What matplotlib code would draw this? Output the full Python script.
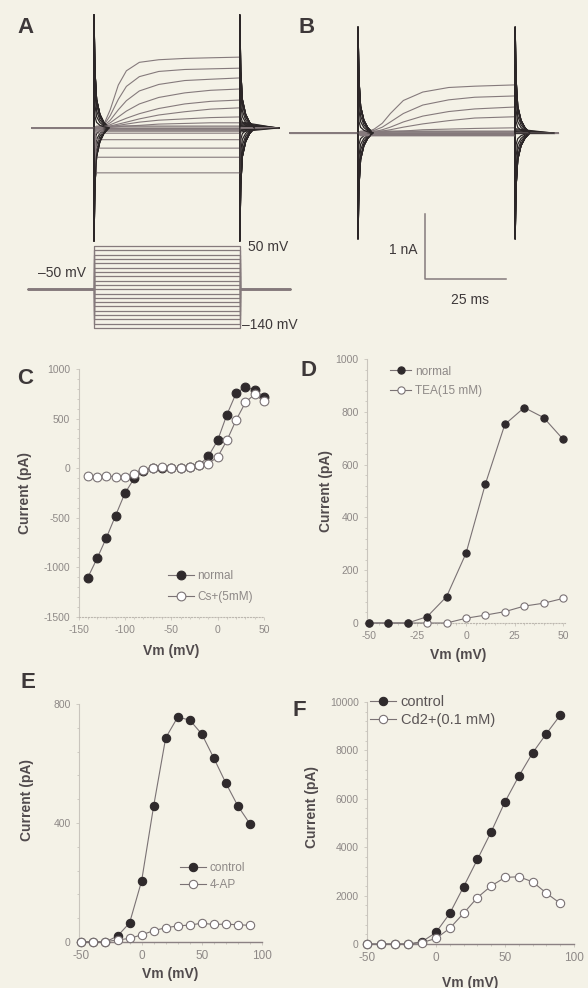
import matplotlib.pyplot as plt
from matplotlib.ticker import AutoMinorLocator

plt.rcParams['font.family'] = ['Liberation Sans', 'DejaVu Sans']
plt.rcParams['axes.unicode_minus'] = False

BG = '#f4f2e7'
TRACE = '#857a7c'
DARK = '#2b2627'
TEXT = '#3d3839'
TICK = '#8e8987'
LINE = '#7a7274'

W, H = 588, 988

# ---------------- panels A / B: current traces (nA vs ms) ----------------
steps_mv = list(range(50, -150, -10))          # 50 ... -140 mV

# A: outward traces, rows for 50 ... -20 mV, sampled at act_t_A
act_t_A = [0, 3, 5, 7.5, 10, 14, 20, 28, 36, 45]
act_A = [
    [0, 0.05, 0.28, 0.66, 0.88, 1.01, 1.05, 1.07, 1.08, 1.09],
    [0, 0.04, 0.19, 0.44, 0.64, 0.79, 0.87, 0.90, 0.91, 0.92],
    [0, 0.03, 0.12, 0.28, 0.42, 0.57, 0.67, 0.73, 0.75, 0.77],
    [0, 0.02, 0.08, 0.17, 0.26, 0.37, 0.47, 0.54, 0.58, 0.60],
    [0, 0.02, 0.05, 0.10, 0.15, 0.22, 0.30, 0.37, 0.41, 0.43],
    [0, 0.01, 0.03, 0.06, 0.09, 0.14, 0.20, 0.25, 0.29, 0.31],
    [0, 0.01, 0.02, 0.04, 0.06, 0.09, 0.12, 0.14, 0.16, 0.17],
    [0, 0.00, 0.01, 0.02, 0.03, 0.04, 0.06, 0.07, 0.08, 0.08],
]
# A: steady currents for -30 ... -140 mV
flat_A = [0.03, 0.015, 0.0, -0.01, -0.02, -0.035, -0.05, -0.08, -0.18, -0.31, -0.45, -0.69]

# B: outward traces, rows for 50 ... 10 mV
act_t_B = [0, 3, 5, 7.5, 10, 14, 20, 28, 36, 48.5]
act_B = [
    [0, 0.02, 0.06, 0.15, 0.30, 0.50, 0.63, 0.70, 0.72, 0.74],
    [0, 0.01, 0.04, 0.09, 0.17, 0.30, 0.43, 0.51, 0.55, 0.57],
    [0, 0.01, 0.02, 0.05, 0.09, 0.17, 0.26, 0.33, 0.37, 0.40],
    [0, 0.00, 0.01, 0.03, 0.05, 0.09, 0.14, 0.19, 0.23, 0.25],
    [0, 0.00, 0.01, 0.01, 0.02, 0.03, 0.05, 0.06, 0.07, 0.08],
]
flat_B = [0.03, 0.02, 0.01, 0.0, 0.0, -0.01, -0.01, -0.02, -0.02, -0.03,
          -0.03, -0.03, -0.04, -0.04, -0.04]

# capacitive transient and tail shapes
spike_t = [0, 0.3, 0.8, 1.8, 3, 4.5]
spike_frac = [1, 0.5, 0.25, 0.12, 0.05, 0]
tail_t = [0, 3, 6, 9, 12]
tail_frac = [1, 0.72, 0.47, 0.22, 0]

# ---------------- IV curves ----------------
vm_C = list(range(-140, 60, 10))
normal_C = [-1103, -910, -703, -477, -253, -103, -30, 0, 5, 5, 5, 10, 30, 120,
            280, 540, 757, 820, 787, 720]
cs_C = [-80, -85, -80, -85, -85, -55, -20, 5, 8, 5, 5, 8, 30, 47,
        113, 280, 487, 663, 747, 673]

vm_D = list(range(-50, 60, 10))
normal_D = [0, 0, 0, 24, 100, 264, 527, 752, 816, 778, 696]
tea_D = [0, 0, 0, 0, 0, 18, 30, 43, 64, 75, 93]

vm_E = list(range(-50, 100, 10))
control_E = [0, 0, 0, 20, 64, 205, 457, 686, 756, 746, 699, 618, 534, 457, 397]
ap_E = [1, 1, 1, 7, 12, 24, 38, 48, 54, 57, 63, 59, 60, 58, 56]

vm_F = list(range(-50, 100, 10))
control_F = [0, 0, 0, 0, 100, 480, 1266, 2366, 3494, 4636, 5875, 6933, 7896, 8693, 9451]
cd_F = [0, 0, 0, 0, 60, 230, 650, 1270, 1920, 2400, 2750, 2780, 2570, 2100, 1680]


def px_axes(x0, y0, x1, y1):
    return fig.add_axes([x0 / W, 1 - y1 / H, (x1 - x0) / W, (y1 - y0) / H])


def draw_traces(ax, rows, t_s, flat, T, t0, t1, clip):
    for i, v in enumerate(steps_mv):
        if i < len(rows):
            t_on, y_on = list(t_s), list(rows[i])
        else:
            f = flat[i - len(rows)]
            t_on, y_on = [0, 0.8, T], [0, f, f]
        ss = y_on[-1]
        ax.plot([t0, 0] + t_on + [T, t1], [0, 0] + y_on + [0, 0],
                color=TRACE, lw=0.8)
        peak = max(-clip, min(clip, 0.035 * (v + 50)))
        if peak == 0:
            continue
        ax.plot([0] + spike_t, [0] + [peak * f for f in spike_frac],
                color=DARK, lw=0.9)
        ax.plot([T] + [T + s for s in spike_t],
                [ss] + [-peak * f for f in spike_frac], color=DARK, lw=0.9)
        ax.plot([T + s for s in tail_t], [0.09 * ss * f for f in tail_frac],
                color=DARK, lw=0.8)


fig = plt.figure(figsize=(5.88, 9.88), dpi=100, facecolor=BG)

# panel A traces
axA = px_axes(20, 5, 295, 245)
axA.set_xlim(-22.84, 62.04)
axA.set_ylim(-1.8, 1.892)
draw_traces(axA, act_A, act_t_A, flat_A, 45, -19.1, 56.8, 1.74)
axA.axis('off')

# panel A voltage protocol
axV = px_axes(20, 240, 295, 340)
axV.set_xlim(-22.84, 62.04)
axV.set_ylim(-167.6, 63.9)
for v in steps_mv:
    axV.plot([-20.4, 0, 0, 45, 45, 60.5], [-50, -50, v, v, -50, -50],
             color=TRACE, lw=0.9)
axV.text(47.5, 48, '50 mV', fontsize=10, color=TEXT, ha='left', va='center')
axV.text(-2.5, -12, '\u201350 mV', fontsize=10, color=TEXT, ha='right', va='center')
axV.text(45.6, -133, '\u2013140 mV', fontsize=10, color=TEXT, ha='left', va='center')
axV.axis('off')

# panel B traces
axB = px_axes(285, 5, 585, 310)
axB.set_xlim(-22.53, 70.06)
axB.set_ylim(-2.723, 1.969)
draw_traces(axB, act_B, act_t_B, flat_B, 48.5, -21, 61.7, 1.63)
# scale bar
axB.plot([20.7, 20.7, 45.7], [-1.25, -2.25, -2.25], color=TRACE, lw=1.1)
axB.text(18.5, -1.8, '1 nA', fontsize=10, color=TEXT, ha='right', va='center')
axB.text(34.6, -2.57, '25 ms', fontsize=10, color=TEXT, ha='center', va='center')
axB.axis('off')


def iv_axes(box, xlim, ylim, xticks, yticks, dark_x):
    ax = px_axes(*box)
    ax.set_facecolor('none')
    ax.set_xlim(*xlim)
    ax.set_ylim(*ylim)
    ax.set_xticks(xticks)
    ax.set_yticks(yticks)
    ax.yaxis.set_minor_locator(AutoMinorLocator(5))
    ax.xaxis.set_minor_locator(AutoMinorLocator(5))
    for s in ('top', 'right'):
        ax.spines[s].set_visible(False)
    ax.spines['left'].set_color('#c9c5bd')
    ax.spines['left'].set_linewidth(0.8)
    if dark_x:
        ax.spines['bottom'].set_color('#8b8183')
        ax.spines['bottom'].set_linewidth(1.0)
    else:
        ax.spines['bottom'].set_color('#bdb8b0')
        ax.spines['bottom'].set_linestyle(':')
    ax.tick_params(which='both', colors='#c9c5bd', labelcolor=TICK,
                   labelsize=7.5, width=0.6)
    ax.tick_params(which='major', length=2.5)
    ax.tick_params(which='minor', length=1.5)
    return ax


def series(ax, x, y, filled, ms, label, z):
    ax.plot(x, y, color=LINE, lw=0.8, marker='o', ms=ms,
            mfc='#2f2a2c' if filled else 'white',
            mec='#2f2a2c' if filled else LINE, mew=0.8,
            clip_on=False, zorder=z, label=label)


def labels(ax, ylx, yly, xlx, xly):
    ax.set_ylabel('Current (pA)', fontsize=10, fontweight='bold', color='#514b4d')
    ax.set_xlabel('Vm (mV)', fontsize=10, fontweight='bold', color='#514b4d')
    ax.yaxis.set_label_coords(ylx, yly)
    ax.xaxis.set_label_coords(xlx, xly)


# panel C
axC = iv_axes((78.5, 369, 264, 617), (-150, 50), (-1500, 1000),
              [-150, -100, -50, 0, 50], [-1500, -1000, -500, 0, 500, 1000], False)
series(axC, vm_C, normal_C, True, 6.3, 'normal', 3)
series(axC, vm_C, cs_C, False, 6.3, 'Cs+(5mM)', 4)
labels(axC, -0.25, 0.5, 0.5, -0.11)
axC.legend(loc='upper left', bbox_to_anchor=(0.48, 0.19), frameon=False,
           fontsize=8.5, handlelength=2.2, handletextpad=0.3, labelspacing=0.75,
           borderaxespad=0, borderpad=0, labelcolor=TICK)

# panel D
axD = iv_axes((367, 359, 565, 623), (-51, 51), (0, 1000),
              [-50, -25, 0, 25, 50], [0, 200, 400, 600, 800, 1000], False)
series(axD, vm_D, tea_D, False, 5.2, 'TEA(15 mM)', 3)
series(axD, vm_D, normal_D, True, 5.2, 'normal', 4)
labels(axD, -0.17, 0.5, 0.46, -0.095)
hD, lD = axD.get_legend_handles_labels()
axD.legend(hD[::-1], lD[::-1], loc='upper left', bbox_to_anchor=(0.116, 0.975),
           frameon=False, fontsize=8.5, handlelength=1.8, handletextpad=0.3,
           labelspacing=0.6, borderaxespad=0, borderpad=0, labelcolor=TICK)

# panel E
axE = iv_axes((79, 704, 262, 942), (-52, 100), (0, 800),
              [-50, 0, 50, 100], [0, 400, 800], True)
series(axE, vm_E, control_E, True, 6, 'control', 3)
series(axE, vm_E, ap_E, False, 6, '4-AP', 4)
labels(axE, -0.246, 0.597, 0.5, -0.105)
axE.tick_params(axis='x', labelsize=8.5)
axE.legend(loc='upper left', bbox_to_anchor=(0.552, 0.336), frameon=False,
           fontsize=8.5, handlelength=2.2, handletextpad=0.3, labelspacing=0.45,
           borderaxespad=0, borderpad=0, labelcolor=TICK)

# panel F
axF = iv_axes((367, 702, 574, 944), (-50, 100), (0, 10000),
              [-50, 0, 50, 100], [0, 2000, 4000, 6000, 8000, 10000], True)
series(axF, vm_F, control_F, True, 6, 'control', 3)
series(axF, vm_F, cd_F, False, 6, 'Cd2+(0.1 mM)', 4)
labels(axF, -0.232, 0.566, 0.5, -0.132)
axF.tick_params(axis='x', labelsize=8.5)
axF.legend(loc='upper left', bbox_to_anchor=(0.015, 1.03), frameon=False,
           fontsize=10.5, handlelength=1.8, handletextpad=0.3, labelspacing=0.3,
           borderaxespad=0, borderpad=0, labelcolor='#5a5455')

# panel letters
for letter, x, y in [('A', 17, 17), ('B', 298, 17), ('C', 17, 368),
                     ('D', 301, 360), ('E', 21, 672), ('F', 292, 700)]:
    fig.text(x / W, 1 - y / H, letter, fontsize=16, fontweight='bold',
             color=TEXT, ha='left', va='top')

fig.savefig('out.png', dpi=100, facecolor=BG)
